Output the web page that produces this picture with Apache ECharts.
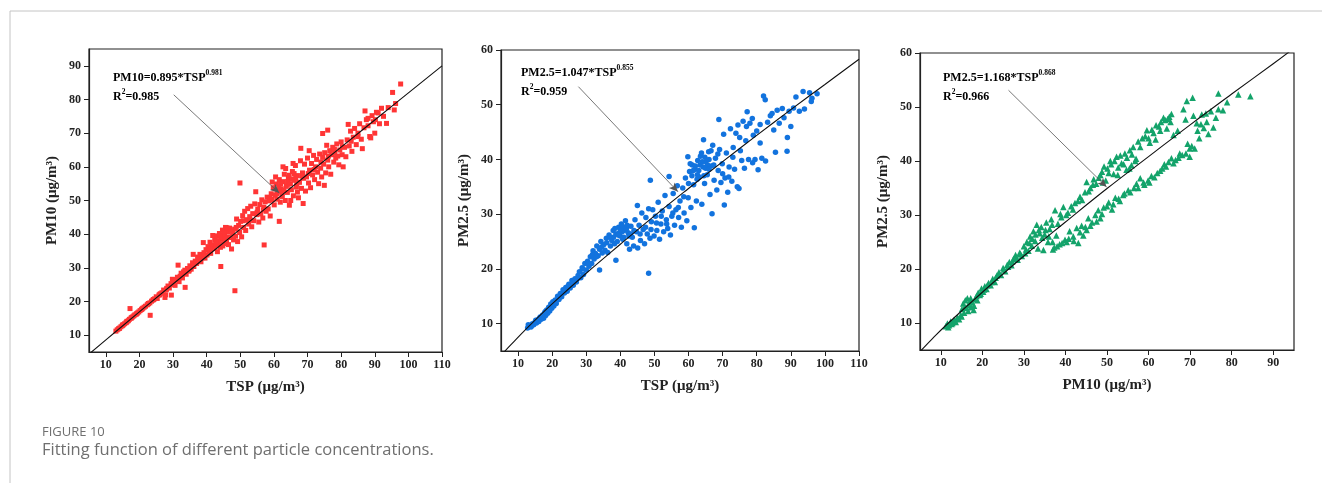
<!DOCTYPE html>
<html>
<head>
<meta charset="utf-8">
<script src="https://cdn.jsdelivr.net/npm/echarts@6/dist/echarts.min.js"></script>
<style>
  html, body { margin: 0; padding: 0; background: #fff; }
  #chart { width: 1322px; height: 483px; }
</style>
</head>
<body>
<div id="chart"></div>
<script>
// tick labels
const ticksTSP = [10, 20, 30, 40, 50, 60, 70, 80, 90, 100, 110]
const ticksPM10x = [10, 20, 30, 40, 50, 60, 70, 80, 90]
const ticksPM10y = [10, 20, 30, 40, 50, 60, 70, 80, 90]
const ticksPM25 = [10, 20, 30, 40, 50, 60]

// TSP vs PM10
const tspPm10 = [
  [13.0,11.2],[13.4,11.6],[13.8,11.9],[14.1,12.1],[14.5,12.5],[14.9,12.8],[15.2,13.1],[15.6,13.4],[16.0,13.7],[16.3,14.1],
  [16.7,14.3],[17.0,14.7],[17.2,17.9],[17.5,15.0],[17.9,15.4],[18.3,15.7],[18.6,16.0],[19.0,16.2],[19.4,16.6],[19.8,16.9],
  [20.2,17.3],[20.6,17.6],[21.0,18.0],[21.4,18.3],[21.8,18.6],[22.3,19.0],[22.7,19.4],[23.2,15.9],[23.1,19.6],[23.6,20.1],
  [24.0,20.4],[24.5,20.8],[25.0,21.4],[25.3,20.9],[25.8,21.9],[26.2,22.3],[26.7,22.6],[27.2,23.4],[27.6,21.2],[27.8,22.0],
  [28.1,23.9],[28.5,24.6],[28.9,24.0],[29.4,25.3],[29.5,21.9],[29.8,26.6],[30.0,25.0],[30.3,26.0],[30.6,24.8],[31.0,26.5],
  [31.3,27.2],[31.5,30.8],[31.8,25.9],[32.1,27.5],[32.4,28.4],[32.8,27.0],[33.1,28.8],[33.6,24.2],[33.5,29.3],[33.9,28.1],
  [34.3,29.8],[34.7,29.0],[35.0,30.6],[35.4,29.6],[35.8,31.5],[36.0,34.0],[36.2,30.4],[36.6,32.0],[37.0,31.3],[37.3,33.2],
  [37.7,32.5],[38.0,34.0],[38.3,31.8],[38.6,33.6],[39.0,37.5],[39.2,34.5],[39.5,32.9],[39.8,35.4],[40.1,33.8],[40.4,36.3],
  [40.7,35.0],[41.0,37.6],[41.2,34.3],[41.5,36.8],[41.8,39.6],[42.1,35.7],[42.4,38.2],[42.7,36.5],[43.0,39.5],[43.2,34.8],
  [43.5,37.4],[43.8,40.2],[44.1,36.1],[44.2,30.4],[44.4,38.6],[44.7,41.2],[45.0,37.2],[45.3,39.8],[45.6,42.0],[45.9,38.0],
  [46.2,40.6],[46.5,36.9],[46.8,41.8],[47.1,39.0],[47.4,35.6],[47.7,40.2],[48.0,38.3],[48.3,41.5],[48.4,23.2],[48.6,39.4],
  [48.9,44.5],[49.2,37.8],[49.5,42.6],[49.9,55.2],[49.8,40.5],[50.1,43.8],[50.4,39.2],[50.7,45.5],[51.0,42.0],[51.3,46.8],
  [51.6,41.1],[51.9,44.3],[52.2,47.6],[52.5,43.0],[52.8,45.2],[53.1,48.3],[53.4,42.2],[53.7,46.1],[54.0,44.0],[54.3,49.0],
  [54.6,52.6],[54.9,45.8],[55.2,47.4],[55.5,43.6],[55.8,48.8],[56.1,46.0],[56.4,50.2],[56.7,44.8],[57.0,48.0],[57.1,36.8],
  [57.4,49.6],[57.7,46.8],[58.0,51.0],[58.3,47.5],[58.6,49.9],[58.9,45.4],[59.2,52.0],[59.5,50.3],[59.8,53.8],[60.1,48.7],
  [60.4,51.6],[60.7,54.9],[61.0,50.4],[61.3,52.8],[61.6,43.8],[61.6,56.2],[61.9,49.5],[62.2,53.5],[62.5,51.2],[62.8,55.6],
  [63.1,57.8],[63.4,50.0],[63.7,54.2],[64.0,52.4],[64.3,56.8],[64.6,48.6],[64.9,55.0],[65.2,53.2],[65.5,58.6],[65.8,51.4],
  [66.1,56.0],[66.4,60.4],[66.7,54.0],[67.0,57.4],[67.3,50.8],[67.6,55.4],[67.9,61.8],[68.0,65.5],[68.2,53.6],[68.5,58.2],
  [68.7,49.1],[68.8,56.6],[69.1,60.8],[69.4,52.8],[69.7,57.0],[70.0,62.6],[70.3,55.2],[70.5,64.8],[70.6,59.0],[70.9,53.8],
  [71.2,61.0],[71.5,57.6],[71.8,63.4],[72.1,56.2],[72.4,60.0],[72.7,62.2],[73.0,58.4],[73.3,55.0],[73.6,63.8],[73.9,59.6],
  [74.2,57.0],[74.5,69.9],[74.5,62.8],[74.8,60.8],[75.0,54.5],[75.1,64.2],[75.4,58.2],[75.7,66.4],[76.0,70.9],[76.0,62.0],
  [76.3,60.0],[76.6,64.8],[76.9,57.8],[77.2,63.6],[77.5,65.8],[77.8,61.4],[78.1,64.0],[78.4,62.6],[78.7,66.8],[79.0,63.2],
  [79.3,60.6],[79.6,65.0],[80.0,67.4],[80.3,63.6],[80.6,60.0],[81.0,65.8],[81.4,63.0],[81.8,68.0],[82.1,72.6],[82.4,66.2],
  [82.8,70.6],[83.2,64.6],[83.6,68.8],[84.0,71.4],[84.5,66.6],[85.0,70.0],[85.5,72.8],[86.0,68.2],[86.3,65.4],[86.8,71.6],
  [87.1,76.6],[87.5,74.0],[88.0,72.2],[88.5,69.0],[88.8,68.6],[89.2,75.2],[89.6,73.4],[90.0,70.0],[90.5,76.2],[91.0,76.0],
  [91.4,72.8],[92.0,77.4],[92.6,75.0],[93.5,72.9],[94.0,77.6],[95.3,82.1],[95.8,76.9],[96.2,78.8],[97.7,84.6],
  [62.0,55.0],[63.0,53.0],[64.5,57.5],[65.0,50.0],[66.0,58.0],[67.0,52.5],[63.5,59.5],[65.7,61.0],[62.7,60.0],[64.2,54.8],
  [66.5,56.8],[61.5,54.0],[60.5,57.0],[59.5,55.5],[44.0,39.6],[45.2,40.8],[46.0,41.9],[43.3,38.1],[44.8,36.5],[46.6,39.1],
  [42.9,37.0],[45.5,38.5],
  [14.0,12.0],[15.0,13.0],[16.2,13.9],[17.6,15.2],[19.2,16.4],[20.8,17.8],[22.5,19.2],[24.2,20.6],[26.0,22.0],[28.0,23.5],
  [30.2,25.6],[32.6,27.8],[34.9,29.4],[36.9,31.8],[38.9,33.0],[40.9,35.6],[42.8,37.8],[47.2,41.0],[48.8,42.0],[50.9,44.0],
  [52.9,44.2],[55.0,46.5],[56.9,47.2],[58.8,50.6],[60.9,52.0],[62.4,52.2],[64.1,55.6],[65.4,56.4],[66.8,55.0],[68.4,57.2],
  [70.2,58.0],[72.0,59.2],[74.0,61.4],[76.2,63.2],[78.0,65.2],[80.4,66.0],[83.0,67.6],[85.0,69.0],[88.0,74.4],[90.2,74.0]
]

// TSP vs PM2.5 (middle panel)
const tspPm25 = [
  [12.8,9.2],[13.3,9.6],[13.8,9.4],[14.2,10.0],[14.6,9.8],[15.0,10.3],[15.4,10.1],[15.8,10.7],[16.1,10.4],[16.5,11.2],
  [16.8,10.8],[17.2,11.6],[17.5,11.0],[17.8,12.0],[18.1,11.5],[18.4,12.5],[18.7,11.9],[19.0,13.0],[19.3,12.3],[19.6,13.6],
  [19.9,12.8],[20.2,14.0],[20.5,13.2],[20.9,14.3],[21.2,13.7],[21.6,15.0],[22.0,14.4],[22.4,15.5],[22.8,14.9],[23.2,16.2],
  [23.6,15.6],[24.0,16.6],[24.4,15.9],[24.9,17.2],[25.3,16.5],[25.8,17.9],[26.2,17.0],[26.7,18.2],[27.1,17.6],[27.6,18.8],
  [28.0,19.5],[28.4,18.4],[28.8,20.2],[29.2,19.0],[29.6,21.0],[30.0,19.8],[30.4,21.4],[30.8,20.5],[31.2,22.2],[31.6,21.0],
  [32.0,23.3],[32.3,21.8],[32.7,22.8],[33.1,24.2],[33.5,22.4],[33.9,19.8],[33.9,23.6],[34.3,25.0],[34.7,22.9],[35.1,24.4],
  [35.5,23.4],[35.9,25.6],[36.3,23.0],[36.7,26.2],[37.1,24.2],[37.5,25.2],[37.9,27.0],[38.3,24.6],[38.7,21.6],[38.7,26.4],
  [39.1,25.0],[39.5,27.6],[39.9,26.0],[40.3,28.2],[40.7,25.4],[41.1,27.0],[41.5,28.8],[41.9,24.6],[42.3,26.6],[42.7,23.6],
  [43.1,27.8],[43.5,25.8],[43.9,24.2],[44.3,29.0],[44.7,26.8],[45.0,31.6],[45.1,23.8],[45.5,28.0],[45.9,25.2],[46.3,30.2],
  [46.7,27.2],[47.1,24.6],[47.5,29.4],[47.9,26.4],[48.3,19.2],[48.3,31.0],[48.8,36.2],[48.7,25.6],[49.1,28.6],[49.5,30.8],
  [49.9,26.0],[50.3,29.6],[50.7,27.0],[51.1,32.2],[51.5,25.4],[51.9,28.2],[52.3,30.6],[52.7,26.8],[53.1,33.4],[53.5,29.0],
  [53.9,27.4],[54.3,36.9],[54.3,31.4],[54.7,26.2],[55.1,29.6],[55.5,33.8],[55.9,28.0],[56.3,30.8],[56.7,35.2],[57.1,29.4],
  [57.5,32.4],[57.9,27.6],[58.3,34.8],[58.7,30.2],[59.1,36.6],[59.5,28.8],[59.8,40.5],[59.9,33.0],[60.3,37.8],[60.7,31.2],
  [61.1,39.0],[61.5,35.4],[61.7,27.5],[61.9,38.2],[62.3,32.4],[62.7,39.8],[63.1,36.8],[63.5,40.6],[63.9,31.8],[64.3,38.6],
  [64.4,43.6],[64.7,35.6],[65.1,39.6],[65.5,37.2],[65.9,41.4],[66.3,33.6],[66.7,38.8],[66.9,30.1],[67.1,42.6],[67.5,36.2],
  [67.9,40.2],[68.3,34.4],[68.9,47.3],[68.7,38.0],[69.1,41.8],[69.5,35.8],[69.9,39.2],[70.3,44.6],[70.5,31.7],[70.7,36.6],
  [71.1,41.2],[71.5,34.0],[71.9,38.6],[72.3,45.6],[72.7,36.0],[73.1,42.2],[73.5,38.2],[73.9,44.8],[74.3,35.0],[74.5,46.3],
  [74.8,34.7],[75.2,41.6],[75.6,39.8],[76.0,47.0],[76.4,38.4],[76.8,43.4],[77.2,48.7],[77.6,40.0],[78.0,46.6],[78.7,47.5],
  [78.8,39.4],[79.5,40.0],[80.0,45.2],[80.4,38.1],[81.0,46.4],[81.5,40.2],[82.0,51.6],[82.5,50.9],[82.6,39.7],[83.2,46.8],
  [84.0,48.0],[84.5,48.4],[85.0,45.4],[85.5,41.3],[86.0,49.0],[86.6,46.6],[87.5,49.3],[88.0,47.6],[88.9,41.5],[89.0,44.0],
  [89.5,48.8],[90.0,46.0],[90.8,49.4],[91.5,51.4],[92.5,48.8],[93.6,52.4],[94.0,49.2],[95.5,52.2],[96.0,50.6],[96.2,51.2],
  [97.7,52.0],
  [61.0,37.0],[62.0,38.8],[63.0,38.0],[64.0,39.6],[65.0,38.4],[66.0,40.0],[62.5,36.4],[64.5,37.0],[60.5,39.2],[63.8,41.2],
  [65.6,39.0],[66.6,41.6],[39.5,26.5],[40.5,26.8],[41.0,25.8],[41.8,27.4],[42.5,26.0],[40.0,27.2],[38.0,25.8],[43.0,26.4],
  [13.0,9.8],[14.0,9.6],[15.2,10.6],[16.3,11.0],[17.0,11.2],[18.0,12.2],[19.2,12.6],[20.0,13.6],[21.0,14.0],[22.2,14.8],
  [23.4,15.8],[24.6,16.8],[26.0,17.6],[27.4,18.2],[29.0,20.0],[30.6,21.0],[31.8,22.6],[33.0,22.2],[34.5,24.0],[36.0,24.8],
  [37.0,25.8],[38.4,27.4],[39.4,26.2],[40.6,27.8],[42.0,28.0],[44.0,27.0],[45.8,26.4],[47.4,27.6],[49.0,27.2],[50.6,28.4],
  [52.0,29.6],[53.6,28.2],[55.4,30.2],[57.0,31.2],[58.6,33.2],[60.0,35.6],[61.4,38.0],[62.6,37.2],[63.4,39.0],[64.8,40.4],
  [66.0,38.2],[67.4,39.0],[68.6,41.0],[70.0,37.4],[71.8,36.8],[73.0,40.4],[75.0,44.0],[77.0,46.0],[79.0,44.4],[81.0,43.0]
]

// PM10 vs PM2.5 (right panel)
const pm10Pm25 = [
  [11.2,9.4],[11.6,9.9],[12.0,9.6],[12.4,10.3],[12.8,10.0],[13.2,10.6],[13.6,10.2],[14.0,11.0],[14.4,10.7],[14.8,11.5],
  [15.1,12.6],[15.4,13.6],[15.6,11.9],[15.9,14.2],[16.2,12.8],[16.4,14.6],[16.7,13.4],[17.0,14.0],[17.3,12.9],[17.6,13.8],
  [17.9,12.4],[18.2,14.4],[18.6,15.0],[19.0,15.6],[19.4,15.2],[19.8,16.4],[20.2,15.8],[20.6,16.8],[21.0,16.3],[21.5,17.4],
  [22.0,17.0],[22.5,18.2],[23.0,17.6],[23.5,18.8],[24.0,19.4],[24.5,18.9],[25.0,20.2],[25.5,19.6],[26.0,20.8],[26.5,21.3],
  [27.0,20.7],[27.5,21.9],[28.0,22.6],[28.5,21.7],[29.0,23.0],[29.5,22.4],[30.0,24.2],[30.3,22.9],[30.7,25.0],[31.1,23.4],
  [31.5,26.0],[31.9,24.3],[32.3,27.0],[32.7,25.2],[33.1,28.2],[33.4,23.8],[33.8,26.6],[34.2,27.8],[34.7,23.5],[35.0,26.4],
  [35.4,28.6],[35.8,25.0],[36.2,27.4],[36.6,29.2],[36.9,25.0],[37.3,24.0],[37.5,30.9],[37.8,26.2],[38.2,28.4],[38.6,24.6],
  [39.0,29.6],[39.5,31.5],[39.9,25.4],[40.3,25.0],[40.6,30.4],[41.0,27.0],[41.4,31.6],[41.9,26.0],[42.3,32.2],[42.7,27.6],
  [43.1,24.8],[43.5,33.4],[43.9,28.0],[44.3,26.2],[44.7,34.2],[45.1,36.1],[45.1,27.2],[45.5,29.4],[46.0,35.0],[46.4,28.6],
  [46.8,36.6],[47.2,30.0],[47.9,30.9],[48.0,36.9],[48.4,29.4],[48.8,38.0],[49.3,39.0],[49.2,31.4],[49.7,36.4],[50.1,38.6],
  [50.4,32.3],[50.8,40.0],[51.2,31.0],[51.6,37.6],[52.0,33.2],[52.3,40.8],[52.7,38.8],[53.1,32.6],[53.5,39.6],[53.9,33.7],
  [54.3,41.4],[54.7,38.4],[55.1,34.6],[55.5,42.0],[55.9,39.2],[56.3,42.6],[56.5,35.0],[57.1,35.8],[57.0,40.4],[57.5,43.6],
  [58.0,36.8],[58.5,44.2],[59.0,35.6],[59.6,45.7],[59.9,36.4],[60.3,43.4],[60.7,37.2],[61.2,45.2],[61.7,44.0],[62.1,37.8],
  [62.5,46.4],[63.0,47.2],[63.3,38.6],[63.8,39.4],[64.0,47.6],[64.4,46.0],[64.8,39.8],[65.0,48.2],[65.5,48.7],[65.5,40.5],
  [66.0,44.8],[66.5,40.2],[67.0,45.6],[67.5,41.4],[68.1,41.1],[68.4,49.6],[68.9,47.7],[69.4,43.2],[69.9,40.8],[69.9,42.3],
  [70.6,51.7],[69.2,51.1],[70.8,48.4],[71.1,42.3],[71.6,47.0],[72.2,44.2],[72.8,48.6],[73.3,46.1],[73.8,48.8],[74.4,45.0],
  [75.0,49.2],[75.6,46.2],[76.2,48.0],[76.8,49.6],[76.8,52.5],[77.9,49.4],[78.9,50.9],[81.6,52.3],[84.5,52.0],
  [11.8,9.2],[12.6,9.8],[13.4,10.4],[14.2,10.8],[15.0,11.2],[15.8,13.0],[16.6,12.2],[17.2,14.6],[18.0,13.2],[18.8,14.2],
  [19.6,15.4],[20.4,16.2],[21.2,17.0],[22.2,17.6],[23.2,18.4],[24.2,19.0],[25.2,19.9],[26.2,20.4],[27.2,21.4],[28.2,22.0],
  [29.2,22.8],[30.5,23.6],[31.3,24.8],[32.0,25.6],[32.8,26.4],[33.6,27.2],[34.4,25.8],[35.2,27.2],[36.0,26.0],[36.8,28.2],
  [37.0,23.6],[38.0,24.2],[39.2,24.8],[40.8,25.6],[42.0,25.2],[43.5,26.8],[44.8,27.8],[46.0,28.0],[47.5,28.8],[48.8,30.2],
  [50.0,31.6],[51.5,32.0],[52.8,33.0],[54.2,34.0],[55.6,34.2],[57.5,35.0],[58.8,36.0],[60.2,36.0],[61.4,37.0],[62.8,38.2],
  [64.2,39.0],[66.0,39.6],[67.2,40.6],[69.0,41.4],[70.4,42.8],[71.8,45.6],[72.6,46.8],[74.0,47.2],
  [38.8,30.2],[40.2,30.0],[41.8,31.0],[43.0,32.6],[44.0,32.8],[45.6,34.4],[46.6,35.6],[47.4,35.8],[48.4,37.4],[49.0,36.0],
  [50.4,37.8],[51.0,39.4],[51.8,40.0],[52.6,37.4],[53.2,41.0],[54.0,39.4],[54.8,40.6],[55.4,38.6],[56.0,41.2],[56.8,40.0],
  [58.0,42.6],[59.2,44.6],[60.0,44.2],[60.8,45.8],[61.8,46.6],[62.8,45.6],[63.6,48.0],[64.6,47.8],[65.3,47.2]
]

// fitted curves
const fitTspPm10 = [[5.5,4.8],[13,11.1],[30,25.2],[50,41.5],[70,57.8],[90,73.9],[110,90.0]]
const fitTspPm25 = [[5,4.2],[8,6.2],[13,9.4],[20,13.6],[30,19.2],[40,24.5],[50,29.7],[60,34.7],[70,39.6],[80,44.4],[90,49.1],[100,53.7],[110,58.3]]
const fitPm10Pm25 = [[5,4.7],[8,7.1],[11,9.4],[20,15.7],[30,22.4],[40,28.7],[50,34.9],[60,40.8],[70,46.7],[80,52.4],[90,58.0],[95,60.9]]

// annotation arrows: [from, to]
const arrow1 = [[30.2, 81.4], [61.6, 52.2]]
const arrow2 = [[27.7, 53.3], [56.9, 34.1]]
const arrow3 = [[26.3, 53.1], [49.9, 35.2]]

const serif = 'Liberation Serif, Times New Roman, serif'
const ink = '#222'

function xAxis(i, min, max, ticks, name) {
  return {
    gridIndex: i, type: 'value', min: min, max: max,
    name: name, nameLocation: 'middle', nameGap: 28,
    nameTextStyle: { fontFamily: serif, fontWeight: 'bold', fontSize: 15, color: ink },
    axisLine: { lineStyle: { color: ink, width: 1.2 } },
    axisTick: { length: 5, customValues: ticks, lineStyle: { color: ink, width: 1 } },
    axisLabel: { customValues: ticks, fontFamily: serif, fontWeight: 'bold', fontSize: 12, color: ink, margin: 7 },
    splitLine: { show: false }
  }
}

function yAxis(i, min, max, ticks, name, gap) {
  return {
    gridIndex: i, type: 'value', min: min, max: max,
    name: name, nameLocation: 'middle', nameGap: gap,
    nameTextStyle: { fontFamily: serif, fontWeight: 'bold', fontSize: 15, color: ink },
    axisLine: { lineStyle: { color: ink, width: 1.2 } },
    axisTick: { length: 5, customValues: ticks, lineStyle: { color: ink, width: 1 } },
    axisLabel: { customValues: ticks, fontFamily: serif, fontWeight: 'bold', fontSize: 12, color: ink, margin: 8 },
    splitLine: { show: false }
  }
}

function arrowLine(a) {
  return {
    silent: true, symbol: ['none', 'arrow'], symbolSize: [6, 9],
    lineStyle: { color: '#555', width: 0.8, type: 'solid' },
    label: { show: false },
    data: [[{ coord: a[0], symbol: 'none' }, { coord: a[1], itemStyle: { color: '#111' } }]]
  }
}

function fitLine(i, data) {
  return {
    type: 'line', xAxisIndex: i, yAxisIndex: i, data: data, smooth: 0.4,
    showSymbol: false, clip: true, silent: true,
    lineStyle: { color: '#111', width: 1.1 }, z: 3
  }
}

function equation(left, top, lhs, coef, expo, r2) {
  return {
    type: 'text', left: left, top: top, z: 10,
    style: {
      text: '{a|' + lhs + '=' + coef + '*TSP}{s|' + expo + '}\n{a|R}{s|2}{a|=' + r2 + '}',
      rich: {
        a: { fontFamily: serif, fontWeight: 'bold', fontSize: 12, color: ink, lineHeight: 19, verticalAlign: 'middle' },
        s: { fontFamily: serif, fontWeight: 'bold', fontSize: 7.5, color: ink, lineHeight: 19, verticalAlign: 'top', padding: [1, 0, 0, 0] }
      }
    }
  }
}

const chart = echarts.init(document.getElementById('chart'), null, { renderer: 'canvas' })

chart.setOption({
  backgroundColor: '#fff',
  animation: false,
  grid: [
    { left: 89, top: 49, width: 353, height: 303, show: true, borderColor: ink, borderWidth: 1.2, backgroundColor: 'transparent' },
    { left: 501, top: 50, width: 358, height: 301, show: true, borderColor: ink, borderWidth: 1.2, backgroundColor: 'transparent' },
    { left: 920, top: 53, width: 374, height: 297, show: true, borderColor: ink, borderWidth: 1.2, backgroundColor: 'transparent' }
  ],
  xAxis: [
    xAxis(0, 5, 110, ticksTSP, 'TSP (μg/m³)'),
    xAxis(1, 5, 110, ticksTSP, 'TSP (μg/m³)'),
    xAxis(2, 5, 95, ticksPM10x, 'PM10 (μg/m³)')
  ],
  yAxis: [
    yAxis(0, 5, 95, ticksPM10y, 'PM10 (μg/m³)', 29),
    yAxis(1, 5, 60, ticksPM25, 'PM2.5 (μg/m³)', 29),
    yAxis(2, 5, 60, ticksPM25, 'PM2.5 (μg/m³)', 29)
  ],
  series: [
    {
      type: 'scatter', xAxisIndex: 0, yAxisIndex: 0, data: tspPm10,
      symbol: 'rect', symbolSize: 5, itemStyle: { color: '#ff3535', opacity: 1 },
      markLine: arrowLine(arrow1), z: 2
    },
    fitLine(0, fitTspPm10),
    {
      type: 'scatter', xAxisIndex: 1, yAxisIndex: 1, data: tspPm25,
      symbol: 'circle', symbolSize: 5.5, itemStyle: { color: '#1273de', opacity: 1 },
      markLine: arrowLine(arrow2), z: 2
    },
    fitLine(1, fitTspPm25),
    {
      type: 'scatter', xAxisIndex: 2, yAxisIndex: 2, data: pm10Pm25,
      symbol: 'triangle', symbolSize: 6.5, itemStyle: { color: '#13a36a', opacity: 1 },
      markLine: arrowLine(arrow3), z: 2
    },
    fitLine(2, fitPm10Pm25)
  ],
  graphic: [
    { type: 'line', shape: { x1: 10, y1: 11, x2: 1322, y2: 11 }, style: { stroke: '#c4c4c4', lineWidth: 1 } },
    { type: 'line', shape: { x1: 10, y1: 11, x2: 10, y2: 483 }, style: { stroke: '#c4c4c4', lineWidth: 1 } },
    equation(113, 68, 'PM10', '0.895', '0.981', '0.985'),
    equation(521, 63, 'PM2.5', '1.047', '0.855', '0.959'),
    equation(943, 68, 'PM2.5', '1.168', '0.868', '0.966'),
    {
      type: 'text', left: 42, top: 426,
      style: { text: 'FIGURE 10', fontFamily: 'Open Sans, Noto Sans, sans-serif', fontSize: 13, fill: '#6f6f6f' }
    },
    {
      type: 'text', left: 42, top: 442,
      style: { text: 'Fitting function of different particle concentrations.', fontFamily: 'Open Sans, Noto Sans, sans-serif', fontSize: 16.5, fill: '#6f6f6f' }
    }
  ]
})
</script>
</body>
</html>
